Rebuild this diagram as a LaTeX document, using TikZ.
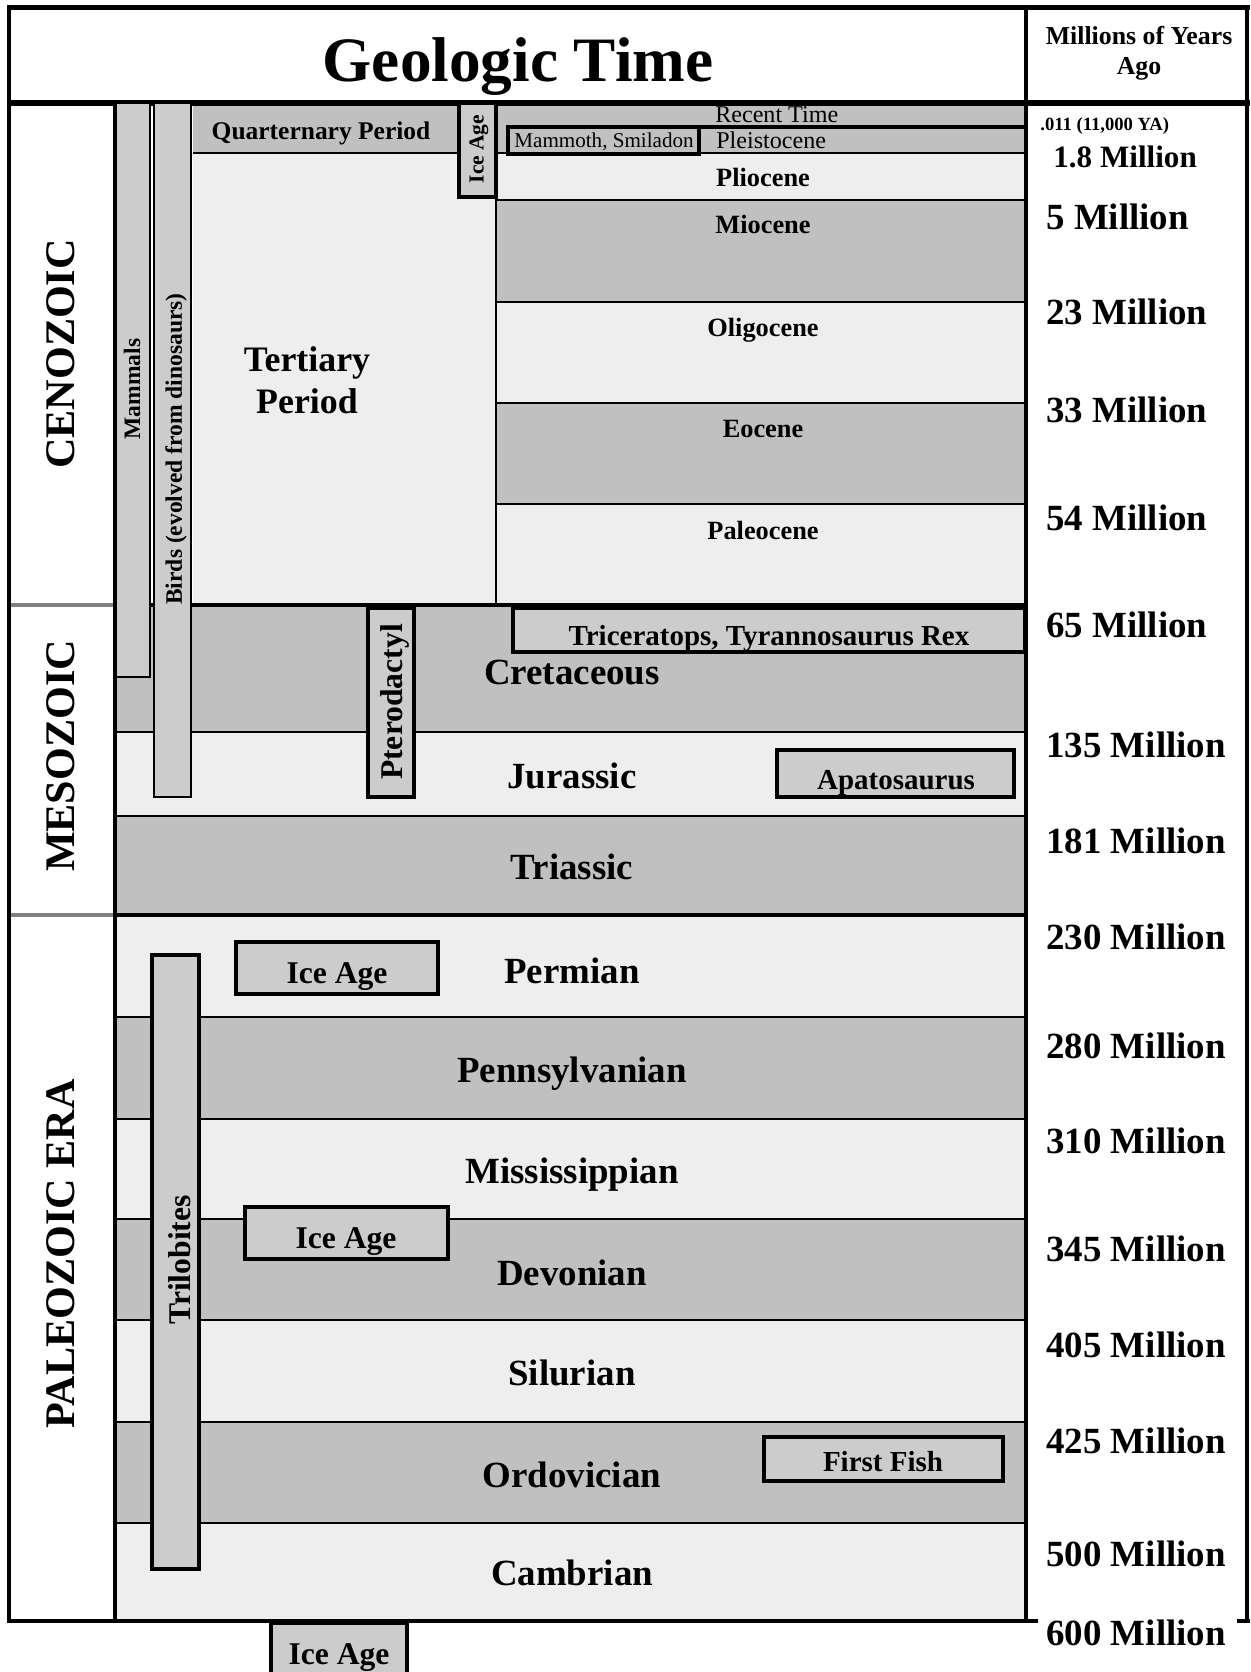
\documentclass[tikz,border=0pt]{standalone}
\usepackage{fontspec}
\setmainfont{Liberation Serif}
\definecolor{lightrow}{HTML}{EEEEEE}
\definecolor{darkrow}{HTML}{C0C0C0}
\definecolor{barfill}{HTML}{CCCCCC}
\definecolor{eraline}{HTML}{808080}

\begin{document}
\begin{tikzpicture}[x=0.02cm, y=-0.02cm, every node/.style={inner sep=0pt}]
% Chart style
\tikzset{
    light/.style={fill=lightrow},
    dark/.style={fill=darkrow},
    rowline/.style={line width=0.6pt},
    frame/.style={line width=2.4pt},
    bar/.style={fill=barfill, draw=black, line width=1.2pt},
    tag/.style={fill=barfill, draw=black, line width=1.8pt},
    title/.style={font=\bfseries\fontsize{36}{40}\selectfont},
    head/.style={font=\bfseries\fontsize{14.7}{17}\selectfont},
    age/.style={anchor=base west, font=\bfseries\fontsize{21}{24}\selectfont},
    period/.style={anchor=base, font=\bfseries\fontsize{21}{24}\selectfont},
    epoch/.style={anchor=base, font=\bfseries\fontsize{15}{18}\selectfont},
    era/.style={rotate=90, font=\bfseries\fontsize{24}{28}\selectfont},
    fossil/.style={anchor=base, font=\bfseries\fontsize{16.5}{19}\selectfont},
    ice/.style={anchor=base, font=\bfseries\fontsize{18}{21}\selectfont},
    sidebar/.style={rotate=90, font=\bfseries\fontsize{13.4}{16}\selectfont}
}
\useasboundingbox (0, 0) rectangle (1250, 1672);

% Bands
\fill[dark]  (496, 103) rectangle (1026, 153);
\fill[light] (496, 153) rectangle (1026, 200);
\fill[dark]  (496, 200) rectangle (1026, 302);
\fill[light] (496, 302) rectangle (1026, 403);
\fill[dark]  (496, 403) rectangle (1026, 504);
\fill[light] (496, 504) rectangle (1026, 605);
\fill[light] (193, 153) rectangle (496, 605);
\fill[dark]  (193, 103) rectangle (459, 153);
\fill[dark]  (115, 605) rectangle (1026, 732);
\fill[light] (115, 732) rectangle (1026, 816);
\fill[dark]  (115, 816) rectangle (1026, 915);
\fill[light] (115, 915) rectangle (1026, 1017);
\fill[dark]  (115, 1017) rectangle (1026, 1119);
\fill[light] (115, 1119) rectangle (1026, 1219);
\fill[dark]  (115, 1219) rectangle (1026, 1320);
\fill[light] (115, 1320) rectangle (1026, 1422);
\fill[dark]  (115, 1422) rectangle (1026, 1523);
\fill[light] (115, 1523) rectangle (1026, 1621);

% Row lines
\draw[rowline] (193, 153) -- (459, 153);
\draw[rowline] (496, 153) -- (1026, 153);
\draw[rowline] (496, 200) -- (1026, 200);
\draw[rowline] (496, 302) -- (1026, 302);
\draw[rowline] (496, 403) -- (1026, 403);
\draw[rowline] (496, 504) -- (1026, 504);
\draw[rowline] (496, 153) -- (496, 605);
\draw[rowline] (115, 732) -- (1026, 732);
\draw[rowline] (115, 816) -- (1026, 816);
\draw[rowline] (115, 1017) -- (1026, 1017);
\draw[rowline] (115, 1119) -- (1026, 1119);
\draw[rowline] (115, 1219) -- (1026, 1219);
\draw[rowline] (115, 1320) -- (1026, 1320);
\draw[rowline] (115, 1422) -- (1026, 1422);
\draw[rowline] (115, 1523) -- (1026, 1523);
\draw[line width=1.8pt] (508, 127) -- (1026, 127);

% Era boundaries
\draw[frame] (115, 605) -- (1026, 605);
\draw[frame] (115, 915) -- (1026, 915);
\draw[frame, eraline] (9, 605) -- (115, 605);
\draw[frame, eraline] (9, 915) -- (115, 915);

% Frame
\draw[frame] (7, 7.5) -- (1250, 7.5);
\draw[line width=3.4pt] (7, 103) -- (1250, 103);
\draw[frame] (9, 7.5) -- (9, 1621);
\draw[frame] (115, 103) -- (115, 1621);
\draw[frame] (1026, 7.5) -- (1026, 1621);
\draw[frame] (1247, 7.5) -- (1247, 1621);
\draw[frame] (7, 1621) -- (1038, 1621);
\draw[frame] (1237, 1621) -- (1250, 1621);

% Bars and boxes
\draw[bar] (116, 103) rectangle (150, 677);
\draw[bar] (154, 103) rectangle (191, 797);
\draw[tag] (459, 103) rectangle (496, 197);
\draw[line width=1.8pt] (508, 127) rectangle (699, 154);
\draw[tag] (513, 608) rectangle (1025, 652);
\draw[tag] (368, 608) rectangle (414, 797);
\draw[tag] (777, 750) rectangle (1014, 797);
\draw[tag] (236, 942) rectangle (438, 994);
\draw[tag] (152, 955) rectangle (199, 1569);
\draw[tag] (245, 1207) rectangle (448, 1259);
\draw[tag] (764, 1437) rectangle (1003, 1481);
\draw[tag] (271, 1680) -- (271, 1623) -- (407, 1623) -- (407, 1680);

% Header
\node[title, anchor=base] (TITLE) at (518, 82) {Geologic Time};
\node[head, anchor=base] (MYA) at (1139, 45) {Millions of Years};
\node[head, anchor=base] (AGO) at (1139, 75) {Ago};

% Eras
\node[era] (CENO) at (61, 354) {CENOZOIC};
\node[era] (MESO) at (61, 756) {MESOZOIC};
\node[era] (PALEO) at (61, 1254) {PALEOZOIC ERA};

% Cenozoic
\node[anchor=base, font=\bfseries\fontsize{14.5}{17}\selectfont] (QUART) at (321, 140) {Quarternary Period};
\node[anchor=base, align=center, font=\bfseries\fontsize{20.4}{24.3}\selectfont] (TERT) at (307, 414) {Tertiary\\Period};
\node[anchor=base west, font=\fontsize{13.7}{16}\selectfont] (RECENT) at (715, 123) {Recent Time};
\node[anchor=base west, font=\fontsize{13.7}{16}\selectfont] (PLEIST) at (716, 149) {Pleistocene};
\node[anchor=base, font=\fontsize{12}{14}\selectfont] (MAMMOTH) at (604, 148) {Mammoth, Smiladon};
\node[epoch] (PLIO) at (763, 187) {Pliocene};
\node[epoch] (MIO) at (763, 234) {Miocene};
\node[epoch] (OLIGO) at (763, 337) {Oligocene};
\node[epoch] (EOC) at (763, 438) {Eocene};
\node[epoch] (PALEOC) at (763, 539) {Paleocene};

% Mesozoic and Paleozoic
\node[period] (CRET) at (572, 684) {Cretaceous};
\node[period] (JUR) at (572, 788) {Jurassic};
\node[period] (TRI) at (572, 879) {Triassic};
\node[period] (PERM) at (572, 983) {Permian};
\node[period] (PENN) at (572, 1082) {Pennsylvanian};
\node[period] (MISS) at (572, 1183) {Mississippian};
\node[period] (DEV) at (572, 1285) {Devonian};
\node[period] (SIL) at (572, 1385) {Silurian};
\node[period] (ORD) at (572, 1487) {Ordovician};
\node[period] (CAMB) at (572, 1585) {Cambrian};

% Life forms
\node[sidebar] (MAMMALS) at (132, 389) {Mammals};
\node[sidebar] (BIRDS) at (176, 449) {Birds (evolved from dinosaurs)};
\node[sidebar, font=\bfseries\fontsize{12.2}{14}\selectfont] (ICEQ) at (479, 149) {Ice Age};
\node[sidebar, font=\bfseries\fontsize{18}{21}\selectfont] (PTERO) at (395, 702) {Pterodactyl};
\node[sidebar, font=\bfseries\fontsize{18}{21}\selectfont] (TRILO) at (180, 1260) {Trilobites};
\node[fossil] (TREX) at (769, 645.5) {Triceratops, Tyrannosaurus Rex};
\node[fossil] (APATO) at (896, 789.5) {Apatosaurus};
\node[fossil] (FISH) at (883, 1471.5) {First Fish};
\node[ice] (ICEP) at (337, 983.5) {Ice Age};
\node[ice] (ICED) at (346, 1248) {Ice Age};
\node[ice] (ICEC) at (339, 1664.5) {Ice Age};

% Ages
\node[anchor=base west, font=\bfseries\fontsize{10.6}{12}\selectfont] (A0) at (1040, 131) {.011 (11,000 YA)};
\node[anchor=base west, font=\bfseries\fontsize{17.7}{20}\selectfont] (A1) at (1053, 168) {1.8 Million};
\node[age] (A2) at (1046, 230) {5 Million};
\node[age] (A3) at (1046, 325) {23 Million};
\node[age] (A4) at (1046, 422) {33 Million};
\node[age] (A5) at (1046, 530) {54 Million};
\node[age] (A6) at (1046, 637) {65 Million};
\node[age] (A7) at (1046, 757) {135 Million};
\node[age] (A8) at (1046, 853) {181 Million};
\node[age] (A9) at (1046, 949) {230 Million};
\node[age] (A10) at (1046, 1058) {280 Million};
\node[age] (A11) at (1046, 1153) {310 Million};
\node[age] (A12) at (1046, 1261) {345 Million};
\node[age] (A13) at (1046, 1357) {405 Million};
\node[age] (A14) at (1046, 1453) {425 Million};
\node[age] (A15) at (1046, 1566) {500 Million};
\node[age] (A16) at (1046, 1645) {600 Million};
\end{tikzpicture}
\end{document}
